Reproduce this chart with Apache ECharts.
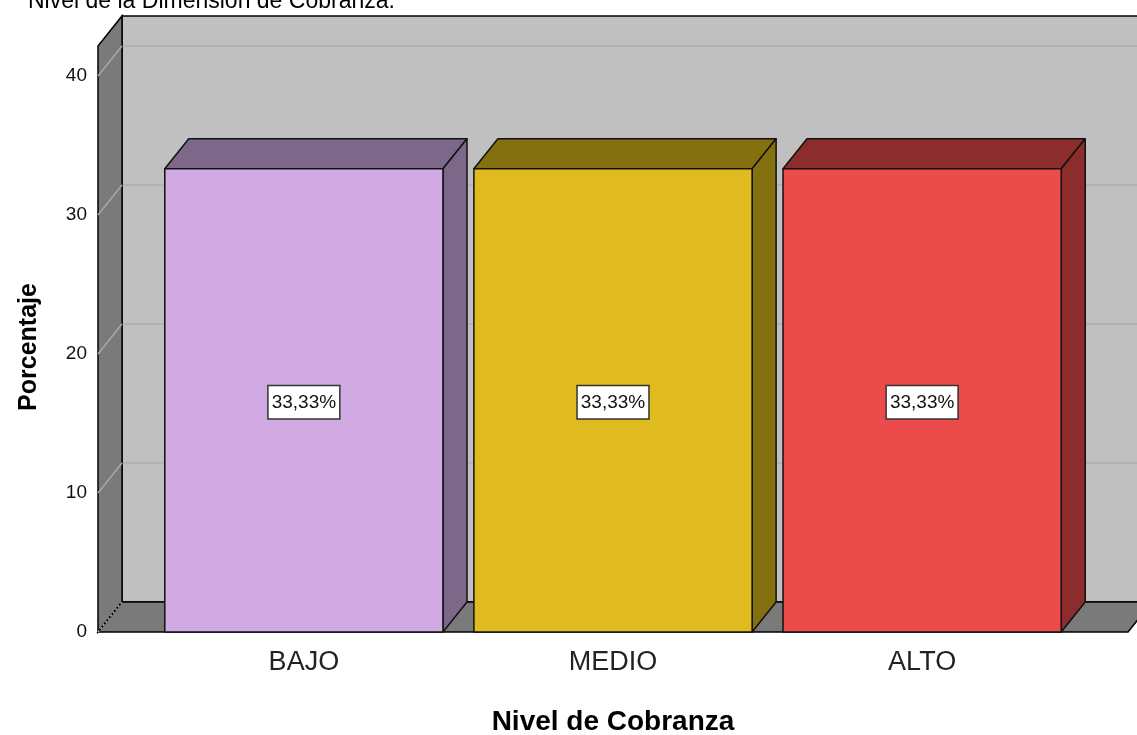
<!DOCTYPE html>
<html>
<head>
<meta charset="utf-8">
<script src="https://cdn.jsdelivr.net/npm/echarts@6/dist/echarts.min.js"></script>
<style>
  html, body { margin: 0; padding: 0; background: #fff; }
  #chart { width: 1137px; height: 735px; }
</style>
</head>
<body>
<div id="chart"></div>
<script>
const categories = ['BAJO', 'MEDIO', 'ALTO'];
const percentages = [33.33, 33.33, 33.33];
const percentLabels = ['33,33%', '33,33%', '33,33%'];
const frontColors = ['#d1a9e3', '#e0bb1f', '#ec4b4b'];
const shadeColors = ['#7d6889', '#85700f', '#8d2c2c'];
const yTicks = [0, 10, 20, 30, 40];

// depth of the fake 3d box, in pixels
const DX = 24, DY = -30;
const BAR_HALF = 0.45;

let chart = echarts.init(document.getElementById('chart'));

function renderWalls(params, api) {
    const cs = params.coordSys;
    const x0 = cs.x, x1 = cs.x + cs.width;
    const yb = cs.y + cs.height, yt = cs.y;
    const kids = [];
    // back wall
    kids.push({
        type: 'polygon',
        shape: {points: [[x0 + DX, yt + DY], [x1 + DX, yt + DY], [x1 + DX, yb + DY], [x0 + DX, yb + DY]]},
        style: {fill: '#c0c0c0', stroke: '#000', lineWidth: 1.5}
    });
    // grid lines on back wall
    yTicks.forEach(function (t) {
        const p = api.coord([0, t]);
        if (t > 0) {
            kids.push({
                type: 'line',
                shape: {x1: x0 + DX, y1: p[1] + DY, x2: x1 + DX, y2: p[1] + DY},
                style: {stroke: '#b3b3b3', lineWidth: 2}
            });
        }
    });
    // left wall
    kids.push({
        type: 'polygon',
        shape: {points: [[x0, yb], [x0, yt], [x0 + DX, yt + DY], [x0 + DX, yb + DY]]},
        style: {fill: '#7a7a7a', stroke: '#000', lineWidth: 1.5}
    });
    yTicks.forEach(function (t) {
        const p = api.coord([0, t]);
        kids.push({
            type: 'line',
            shape: {x1: x0, y1: p[1], x2: x0 + DX, y2: p[1] + DY},
            style: {stroke: '#a8a8a8', lineWidth: 1.5, lineDash: t === 0 ? [2, 2] : null}
        });
    });
    // floor
    kids.push({
        type: 'polygon',
        shape: {points: [[x0, yb], [x1, yb], [x1 + DX, yb + DY], [x0 + DX, yb + DY]]},
        style: {fill: '#7a7a7a', stroke: '#000', lineWidth: 1.5}
    });
    kids.push({
        type: 'line',
        shape: {x1: x0, y1: yb, x2: x0 + DX, y2: yb + DY},
        style: {stroke: '#a8a8a8', lineWidth: 1.5, lineDash: [2, 2]}
    });
    return {type: 'group', children: kids};
}

function renderBar(params, api) {
    const i = api.value(0);
    const v = api.value(1);
    const lt = api.coord([i - BAR_HALF, v]);
    const rb = api.coord([i + BAR_HALF, 0]);
    const L = lt[0], T = lt[1], R = rb[0], B = rb[1];
    const edge = {stroke: '#111', lineWidth: 1.5, lineJoin: 'round'};
    return {
        type: 'group',
        children: [
            {
                type: 'polygon',
                shape: {points: [[L, T], [R, T], [R + DX, T + DY], [L + DX, T + DY]]},
                style: Object.assign({fill: shadeColors[i]}, edge)
            },
            {
                type: 'polygon',
                shape: {points: [[R, T], [R, B], [R + DX, B + DY], [R + DX, T + DY]]},
                style: Object.assign({fill: shadeColors[i]}, edge)
            },
            {
                type: 'rect',
                shape: {x: L, y: T, width: R - L, height: B - T},
                style: Object.assign({fill: frontColors[i]}, edge)
            },
            {
                type: 'text',
                x: (L + R) / 2,
                y: (T + B) / 2 + 2,
                style: {
                    text: percentLabels[i],
                    fontSize: 19,
                    fontFamily: 'Liberation Sans',
                    fill: '#111',
                    align: 'center',
                    verticalAlign: 'middle',
                    backgroundColor: '#fff',
                    borderColor: '#333',
                    borderWidth: 1.5,
                    padding: [7, 3, 6, 3]
                }
            }
        ]
    };
}

const option = {
    animation: false,
    backgroundColor: '#fff',
    graphic: [{
        type: 'text',
        left: 28,
        top: -10,
        style: {
            text: 'Nivel de la Dimensión de Cobranza.',
            fontSize: 23,
            fontFamily: 'Liberation Sans',
            fill: '#000'
        }
    }],
    grid: {left: 98, right: 9, top: 46, bottom: 103, containLabel: false, outerBoundsMode: 'none'},
    xAxis: {
        type: 'value',
        min: -0.666,
        max: 2.666,
        axisLine: {show: false},
        axisTick: {show: false},
        splitLine: {show: false},
        axisLabel: {
            customValues: [0, 1, 2],
            formatter: function (v) { return categories[Math.round(v)] || ''; },
            fontSize: 27,
            fontFamily: 'Liberation Sans',
            color: '#222',
            margin: 17
        },
        name: 'Nivel de Cobranza',
        nameLocation: 'middle',
        nameGap: 76,
        nameTextStyle: {fontSize: 28, fontWeight: 'bold', fontFamily: 'Liberation Sans', color: '#000'}
    },
    yAxis: {
        type: 'value',
        min: 0,
        max: 42.16,
        interval: 10,
        axisLine: {show: false},
        axisTick: {show: false},
        splitLine: {show: false},
        axisLabel: {
            showMaxLabel: false,
            formatter: function (v) { return v % 10 === 0 ? String(v) : ''; },
            fontSize: 19,
            fontFamily: 'Liberation Sans',
            color: '#111',
            margin: 11,
            padding: [10, 0, 0, 0]
        },
        name: 'Porcentaje',
        nameLocation: 'middle',
        nameGap: 56,
        nameTextStyle: {fontSize: 25, fontWeight: 'bold', fontFamily: 'Liberation Sans', color: '#000', padding: [0, 16, 0, 0]}
    },
    series: [
        {
            type: 'custom',
            clip: false,
            silent: true,
            renderItem: renderWalls,
            data: [[0, 0]],
            z: 1
        },
        {
            type: 'custom',
            clip: false,
            renderItem: renderBar,
            data: categories.map(function (c, i) { return [i, percentages[i]]; }),
            z: 2
        }
    ]
};
chart.setOption(option);
window.addEventListener('resize', function () {
    chart.resize();
});
</script>
</body>
</html>
